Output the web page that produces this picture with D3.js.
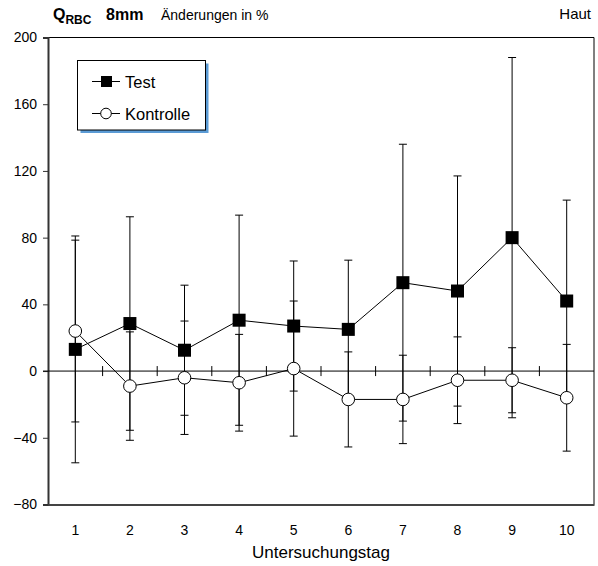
<!DOCTYPE html>
<html>
<head>
<meta charset="utf-8">
<script src="https://cdn.jsdelivr.net/npm/d3@7"></script>
<style>
  html, body { margin: 0; padding: 0; background: #fff; }
  svg { display: block; font-family: "Liberation Sans", Arial, sans-serif; }
</style>
</head>
<body>
<svg id="chart" width="598" height="566"></svg>
<script>
// Untersuchungstage
const days = [1, 2, 3, 4, 5, 6, 7, 8, 9, 10];
// Mittelwerte (Änderungen in %) und Standardabweichungen
const testMean     = [13, 28.5, 12.5, 30.5, 27, 25, 53, 48, 80, 42];
const testSD       = [68, 64, 39, 63, 39, 41.5, 83, 69, 108, 60.5];
const controlMean  = [24, -9, -4, -7, 1.5, -17, -17, -5.5, -5.5, -16];
const controlSD    = [54.5, 32.5, 34, 29, 40.5, 28.5, 26.5, 26, 19.5, 32];
const yTicks = [-80, -40, 0, 40, 80, 120, 160, 200];

const svg = d3.select("#chart");
const plotLeft = 48, plotRight = 594, plotTop = 37.5, plotBottom = 504.5;

const x = d3.scaleBand().domain(days).range([plotLeft, plotRight]).padding(0);
const cx = d => x(d) + x.bandwidth() / 2;
const y = d3.scaleLinear().domain([-80, 200]).range([plotBottom, plotTop]);

// Rahmen oben und rechts
svg.append("path")
  .attr("d", `M${plotLeft},${plotTop}H${plotRight}V${plotBottom}`)
  .attr("fill", "none").attr("stroke", "#000").attr("stroke-width", 1);

// Y-Achse
const yAxis = d3.axisLeft(y).tickValues(yTicks).tickSize(5).tickPadding(6);
const gy = svg.append("g").attr("transform", `translate(${plotLeft},0)`).call(yAxis);
gy.select(".domain").attr("stroke", "#333").attr("stroke-width", 2);
gy.selectAll(".tick line").attr("stroke", "#333");
gy.selectAll(".tick text").attr("font-size", 14).attr("fill", "#000")
  .attr("font-family", "Liberation Sans, Arial, sans-serif");

// X-Achse unten (ohne Striche), Beschriftung darunter
const xAxis = d3.axisBottom(x).tickSize(0).tickPadding(21);
const gx = svg.append("g").attr("transform", `translate(0,${plotBottom})`).call(xAxis);
gx.select(".domain").attr("stroke", "#444").attr("stroke-width", 2);
gx.selectAll(".tick text").attr("font-size", 14).attr("fill", "#000")
  .attr("font-family", "Liberation Sans, Arial, sans-serif");

// Nulllinie mit Zwischenstrichen
svg.append("line")
  .attr("x1", plotLeft - 5).attr("x2", plotRight)
  .attr("y1", y(0)).attr("y2", y(0))
  .attr("stroke", "#000").attr("stroke-width", 1);
svg.append("g").selectAll("line")
  .data(days.slice(1))
  .join("line")
  .attr("x1", d => x(d)).attr("x2", d => x(d))
  .attr("y1", y(0) - 5).attr("y2", y(0) + 5)
  .attr("stroke", "#000").attr("stroke-width", 1);

// Fehlerbalken
function errorBars(means, sds) {
  const g = svg.append("g").attr("stroke", "#000").attr("stroke-width", 1).attr("fill", "none");
  days.forEach((d, i) => {
    const hi = y(means[i] + sds[i]), lo = y(means[i] - sds[i]), px = cx(d);
    g.append("line").attr("x1", px).attr("x2", px).attr("y1", hi).attr("y2", lo);
    g.append("line").attr("x1", px - 4).attr("x2", px + 4).attr("y1", hi).attr("y2", hi);
    g.append("line").attr("x1", px - 4).attr("x2", px + 4).attr("y1", lo).attr("y2", lo);
  });
}
errorBars(controlMean, controlSD);
errorBars(testMean, testSD);

// Verbindungslinien
const line = d3.line().x((v, i) => cx(days[i])).y(v => y(v));
svg.append("path").datum(controlMean).attr("d", line)
  .attr("fill", "none").attr("stroke", "#000").attr("stroke-width", 1);
svg.append("path").datum(testMean).attr("d", line)
  .attr("fill", "none").attr("stroke", "#000").attr("stroke-width", 1);

// Marker
svg.append("g").selectAll("circle")
  .data(controlMean)
  .join("circle")
  .attr("cx", (v, i) => cx(days[i])).attr("cy", v => y(v))
  .attr("r", 6.3)
  .attr("fill", "#fff").attr("stroke", "#000").attr("stroke-width", 1);
const sq = 13;
svg.append("g").selectAll("rect")
  .data(testMean)
  .join("rect")
  .attr("x", (v, i) => cx(days[i]) - sq / 2).attr("y", v => y(v) - sq / 2)
  .attr("width", sq).attr("height", sq)
  .attr("fill", "#000");

// Achsentitel
svg.append("text")
  .attr("x", (plotLeft + plotRight) / 2).attr("y", 558)
  .attr("text-anchor", "middle").attr("font-size", 17)
  .text("Untersuchungstag");

// Kopfzeile
const title = svg.append("text").attr("x", 53).attr("y", 20);
title.append("tspan").attr("font-weight", "bold").attr("font-size", 16).text("Q");
title.append("tspan").attr("font-weight", "bold").attr("font-size", 12).attr("dy", 4).text("RBC");
title.append("tspan").attr("x", 106).attr("dy", -4).attr("font-weight", "bold").attr("font-size", 16).text("8mm");
title.append("tspan").attr("x", 161).attr("font-size", 14).text("Änderungen in %");

svg.append("text")
  .attr("x", 591).attr("y", 19)
  .attr("text-anchor", "end").attr("font-size", 15)
  .text("Haut");

// Legende
const lg = svg.append("g");
lg.append("rect").attr("x", 80.5).attr("y", 63.5).attr("width", 128).attr("height", 69.5)
  .attr("fill", "#5b9bd5");
lg.append("rect").attr("x", 77.5).attr("y", 60.5).attr("width", 128).attr("height", 69.5)
  .attr("fill", "#fff").attr("stroke", "#000").attr("stroke-width", 1);

const legendItems = [
  { label: "Test", yy: 81.5, kind: "square" },
  { label: "Kontrolle", yy: 113.5, kind: "circle" }
];
legendItems.forEach(item => {
  lg.append("line").attr("x1", 92).attr("x2", 120).attr("y1", item.yy).attr("y2", item.yy)
    .attr("stroke", "#000").attr("stroke-width", 1);
  if (item.kind === "square") {
    lg.append("rect").attr("x", 101).attr("y", item.yy - 5.5).attr("width", 11).attr("height", 11)
      .attr("fill", "#000");
  } else {
    lg.append("circle").attr("cx", 106).attr("cy", item.yy).attr("r", 5.3)
      .attr("fill", "#fff").attr("stroke", "#000").attr("stroke-width", 1);
  }
  lg.append("text").attr("x", 125).attr("y", item.yy + 6).attr("font-size", 16.5).text(item.label);
});
</script>
</body>
</html>
